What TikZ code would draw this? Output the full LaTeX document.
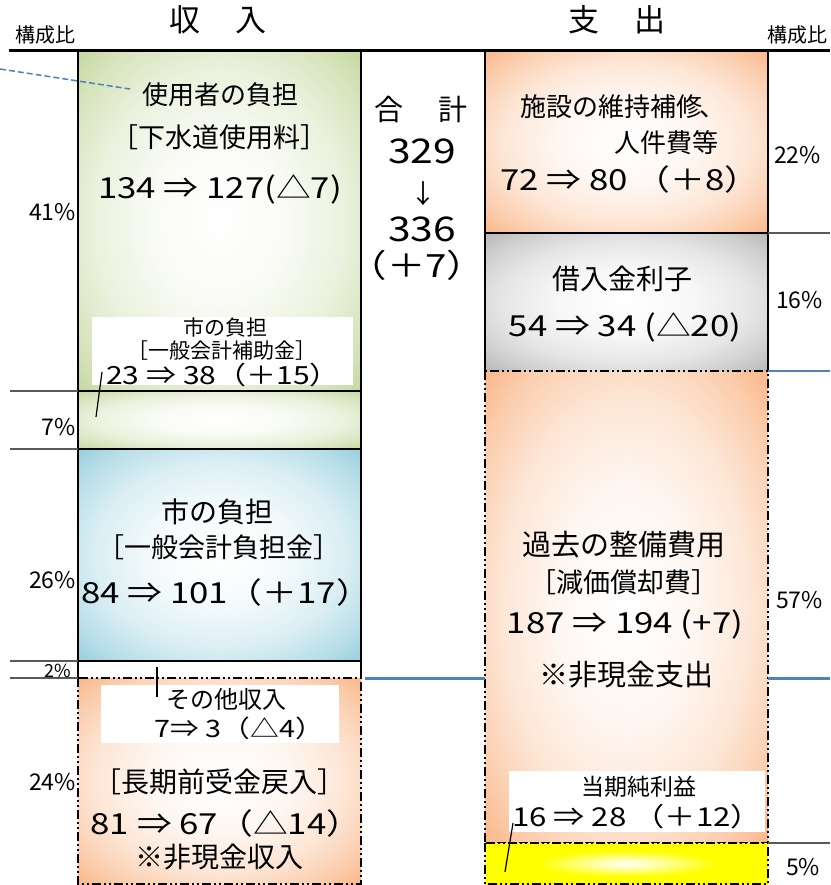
\documentclass[tikz,border=0pt]{standalone}
\usepackage{fontspec}
\setmainfont{Noto Sans CJK JP}
\newfontfamily\numfont[FakeStretch=1.2]{Noto Sans CJK JP}
\usepackage{tikz}

\definecolor{usegreen}{RGB}{155,187,89}
\definecolor{cityblue}{RGB}{75,172,198}
\definecolor{costorange}{RGB}{245,130,50}
\definecolor{rategray}{RGB}{130,130,130}
\definecolor{gainyellow}{RGB}{255,255,0}
\definecolor{leadblue}{RGB}{79,129,189}
\definecolor{tickgray}{RGB}{89,89,89}
\colorlet{blkcol}{white}
\pgfdeclareradialshading[blkcol]{softglow}{\pgfpoint{0bp}{0bp}}{%
  color(0bp)=(white); color(12bp)=(blkcol!6!white); color(22bp)=(blkcol!20!white);
  color(30bp)=(blkcol!40!white); color(36bp)=(blkcol!60!white); color(50bp)=(blkcol)}
\pgfdeclareradialshading[blkcol]{hotglow}{\pgfpoint{0bp}{0bp}}{%
  color(0bp)=(white); color(5bp)=(blkcol!30!white); color(16bp)=(blkcol); color(50bp)=(blkcol)}

\tikzset{
  blk/.style={shade, shading=softglow, /utils/exec={\colorlet{blkcol}{#1}}},
  hotblk/.style={shade, shading=hotglow, /utils/exec={\colorlet{blkcol}{#1}}},
  solidblk/.style={draw=black, line width=2.2pt},
  dashblk/.style={draw=black, line width=2.2pt,
    dash pattern=on 9pt off 3pt on 2pt off 3pt on 2pt off 3pt},
  tickline/.style={draw=tickgray, line width=1.8pt},
  leader/.style={draw=black, line width=1.2pt},
  ttl/.style={inner sep=0pt, font=\fontsize{26}{26}\selectfont},
  val/.style={inner sep=0pt, font=\numfont\fontsize{29}{29}\selectfont},
  pct/.style={inner sep=0pt, font=\fontsize{23}{23}\selectfont},
}

\begin{document}
\begin{tikzpicture}[x=1pt,y=-1pt]
\useasboundingbox (0,0) rectangle (830,885);

% income side
\draw [blk=usegreen, solidblk] (78,51) rectangle (361,391);
\draw [blk=usegreen, solidblk] (78,391) rectangle (361,449);
\draw [blk=cityblue, solidblk] (78,449) rectangle (361,661);
\fill [white] (78,661) rectangle (361,678);
\draw [solidblk] (78,678) |- (361,661) -- (361,678);
\draw [blk=costorange, dashblk] (78,678) rectangle (361,884);

% expense side
\draw [blk=costorange, solidblk] (485,51) rectangle (768,233);
\path [blk=rategray] (485,233) rectangle (768,371);
\draw [solidblk] (485,371) |- (768,233) -- (768,371);
\draw [blk=costorange, dashblk] (485,371) rectangle (768,843);
\draw [hotblk=gainyellow, dashblk] (485,843) rectangle (768,884);

\draw [line width=3pt] (9,51) -- (830,51);
\foreach \y in {391,449,661,678}
  \draw [tickline] (10,\y) -- (78,\y);
\draw [tickline] (768,233) -- (830,233);
\draw [tickline] (768,843) -- (830,843);
\draw [leadblue, line width=1.2pt] (768,371) -- (830,371);
\draw [leadblue, line width=3pt] (365,678) -- (485,678);
\draw [leadblue, line width=3pt] (768,678) -- (830,678);

% white tags
\fill [white] (92,317) rectangle (353,385);
\fill [white] (101,685) rectangle (339,743);
\fill [white] (509,771) rectangle (765,832);

% leaders
\coordinate (farleft) at (0,69);
\coordinate (usetip) at (130,89);
\draw [leadblue, line width=1.5pt, dash pattern=on 6pt off 3pt] (farleft) -- (usetip);
\coordinate (subfoot) at (102,372);
\coordinate (subtip) at (96,417);
\draw [leader] (subfoot) -- (subtip);
\coordinate (otherfoot) at (157,697);
\coordinate (othertip) at (157,667);
\draw [leader] (otherfoot) -- (othertip);
\coordinate (gainfoot) at (513,823);
\coordinate (gaintip) at (505,872);
\draw [leader] (gainfoot) -- (gaintip);

% headings
\node (inhead) [inner sep=0pt, font=\fontsize{31}{31}\selectfont] at (218,20) {収\hspace{1.1em}入};
\node (outhead) [inner sep=0pt, font=\fontsize{31}{31}\selectfont] at (617,20) {支\hspace{1.1em}出};
\node (ratioleft) [pct, font=\fontsize{20}{20}\selectfont] at (45,35) {構成比};
\node (ratioright) [pct, font=\fontsize{20}{20}\selectfont] at (797,35) {構成比};

% total
\node (sumtitle) [inner sep=0pt, font=\fontsize{29}{29}\selectfont] at (421,110) {合\hspace{1.2em}計};
\node (sumold) [inner sep=0pt, font=\numfont\fontsize{34}{34}\selectfont] at (422,151) {329};
\node (sumarrow) [inner sep=0pt, font=\fontsize{26}{26}\selectfont] at (423,194) {↓};
\node (sumnew) [inner sep=0pt, font=\numfont\fontsize{34}{34}\selectfont] at (422,229) {336};
\node (sumdiff) [inner sep=0pt, font=\numfont\fontsize{32}{32}\selectfont] at (417,265) {（＋7）};

% income texts
\node (usetitle) [ttl] at (220,95) {使用者の負担};
\node (usekind) [ttl, font=\fontsize{27}{27}\selectfont] at (219,137) {［下水道使用料］};
\node (useval) [val] at (220,189) {134 ⇒ 127(△7)};
\node (subtitle) [inner sep=0pt, font=\fontsize{21}{21}\selectfont] at (225,328) {市の負担};
\node (subkind) [inner sep=0pt, font=\fontsize{21}{21}\selectfont] at (222,351) {［一般会計補助金］};
\node (subval) [inner sep=0pt, font=\numfont\fontsize{25}{25}\selectfont] at (223,375) {23 ⇒ 38（＋15）};
\node (citytitle) [ttl, font=\fontsize{28}{28}\selectfont] at (217,512) {市の負担};
\node (citykind) [ttl, font=\fontsize{27}{27}\selectfont] at (219,547) {［一般会計負担金］};
\node (cityval) [val] at (226,592) {84 ⇒ 101（＋17）};
\node (othertitle) [inner sep=0pt, font=\fontsize{24}{24}\selectfont] at (226,699) {その他収入};
\node (otherval) [inner sep=0pt, font=\numfont\fontsize{24}{24}\selectfont] at (239,728) {7⇒ 3（△4）};
\node (deferkind) [ttl, font=\fontsize{28}{28}\selectfont] at (219,782) {［長期前受金戻入］};
\node (deferval) [val] at (226,823) {81 ⇒ 67（△14）};
\node (defernote) [ttl, font=\fontsize{28}{28}\selectfont] at (219,857) {※非現金収入};

% expense texts
\node (maintitle) [ttl] at (623,107) {施設の維持補修\kern-.15em、};
\node (mainsub) [ttl] at (666,143) {人件費等};
\node (mainval) [val] at (630,179) {72 ⇒ 80 （＋8）};
\node (loantitle) [ttl, font=\fontsize{28}{28}\selectfont] at (622,279) {借入金利子};
\node (loanval) [val] at (625,327) {54 ⇒ 34 (△20)};
\node (deprtitle) [ttl, font=\fontsize{29}{29}\selectfont] at (624,545) {過去の整備費用};
\node (deprkind) [ttl, font=\fontsize{27}{27}\selectfont] at (624,582) {［減価償却費］};
\node (deprval) [val] at (625,624) {187 ⇒ 194 (+7)};
\node (deprnote) [ttl, font=\fontsize{29}{29}\selectfont] at (626,675) {※非現金支出};
\node (gaintitle) [inner sep=0pt, font=\fontsize{23}{23}\selectfont] at (639,787) {当期純利益};
\node (gainval) [inner sep=0pt, font=\numfont\fontsize{26}{26}\selectfont] at (637,817) {16 ⇒ 28 （＋12）};

% shares
\node (pctuse) [pct, anchor=east] at (76,212) {41\%};
\node (pctsub) [pct, anchor=east] at (76,427) {7\%};
\node (pctcity) [pct, anchor=east] at (76,580) {26\%};
\node (pctother) [pct, anchor=east, font=\fontsize{18}{18}\selectfont] at (71,671) {2\%};
\node (pctdefer) [pct, anchor=east] at (76,782) {24\%};
\node (pctmain) [pct, anchor=west] at (774,155) {22\%};
\node (pctloan) [pct, anchor=west] at (776,300) {16\%};
\node (pctdepr) [pct, anchor=west] at (776,600) {57\%};
\node (pctgain) [pct, anchor=west] at (786,867) {5\%};
\end{tikzpicture}
\end{document}
